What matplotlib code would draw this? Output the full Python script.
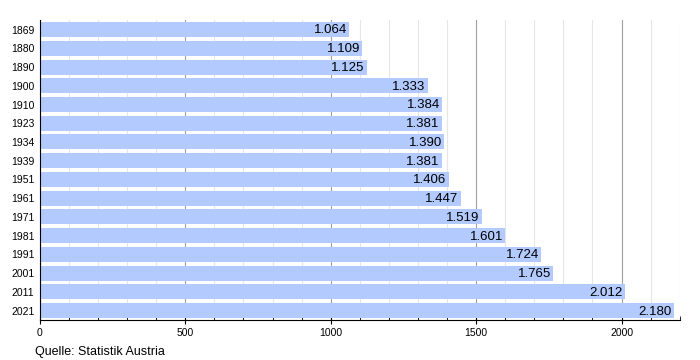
import matplotlib
matplotlib.use('Agg')
import matplotlib.pyplot as plt
from matplotlib.ticker import MultipleLocator

years = ['1869', '1880', '1890', '1900', '1910', '1923', '1934', '1939',
         '1951', '1961', '1971', '1981', '1991', '2001', '2011', '2021']
population = [1064, 1109, 1125, 1333, 1384, 1381, 1390, 1381,
              1406, 1447, 1519, 1601, 1724, 1765, 2012, 2180]
labels = ['1.064', '1.109', '1.125', '1.333', '1.384', '1.381', '1.390', '1.381',
          '1.406', '1.447', '1.519', '1.601', '1.724', '1.765', '2.012', '2.180']

plt.rcParams['font.family'] = ['Liberation Sans', 'DejaVu Sans']

fig = plt.figure(figsize=(7, 3.6), dpi=100)
ax = fig.add_axes([0.057, 0.111, 0.914, 0.833])

pos = list(range(len(years)))
ax.barh(pos, population, height=0.8, color='#b3caff', zorder=2)
for y, v, t in zip(pos, population, labels):
    ax.text(v - 8, y + 0.05, t, ha='right', va='center', fontsize=9.5, color='black', zorder=3)

ax.set_xlim(0, 2200)
ax.set_ylim(len(years) - 0.5, -0.5)
ax.set_yticks(pos)
ax.set_yticklabels(years, fontsize=7.5)
ax.tick_params(axis='y', length=0, pad=4)

ax.xaxis.set_major_locator(MultipleLocator(500))
ax.xaxis.set_minor_locator(MultipleLocator(100))
ax.tick_params(axis='x', which='major', direction='inout', length=6, labelsize=7.5, pad=3)
ax.tick_params(axis='x', which='minor', direction='in', length=3)
ax.grid(axis='x', which='minor', color='#e6e6e6', linewidth=0.8, zorder=0)
ax.grid(axis='x', which='major', color='#a0a0a0', linewidth=0.8, zorder=0)
ax.set_axisbelow(True)

for s in ['top', 'right']:
    ax.spines[s].set_visible(False)
ax.spines['left'].set_color('black')
ax.spines['bottom'].set_color('black')

fig.text(35 / 700, 1 - 352 / 360, 'Quelle: Statistik Austria', fontsize=9, va='center', ha='left')

fig.savefig('out.png', dpi=100)
